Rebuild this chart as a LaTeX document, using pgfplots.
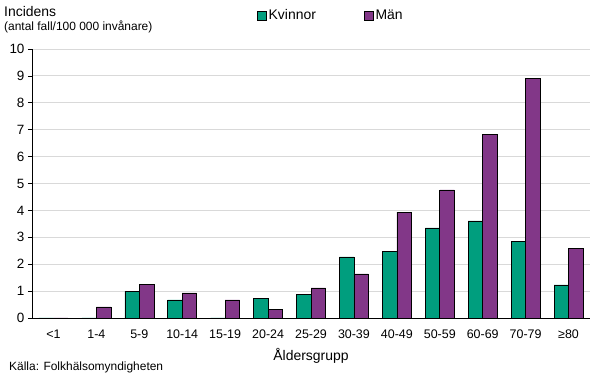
\documentclass[border=0pt]{standalone}
\usepackage{fontspec}
\setmainfont{Liberation Sans}
\usepackage{pgfplots}
\pgfplotsset{compat=1.18}
\definecolor{kv}{HTML}{009E7E}
\definecolor{ma}{HTML}{823788}
\begin{document}
\begin{tikzpicture}
\useasboundingbox (0,0) rectangle (605bp,378bp);
\begin{axis}[
  at={(32bp,60bp)}, anchor=south west,
  width=558bp, height=269bp, scale only axis,
  xmin=-0.5, xmax=12.5, ymin=0, ymax=10,
  ybar=0pt, bar width=14.5bp,
  axis lines=left, axis line style={-, black, line width=0.9pt},
  xtick={0,...,12},
  xticklabels={<1,1-4,5-9,10-14,15-19,20-24,25-29,30-39,40-49,50-59,60-69,70-79,≥80},
  x tick label style={font=\fontsize{12.5}{14}\selectfont, yshift=-4bp},
  x tick style={draw=none},
  ytick={0,...,10},
  y tick label style={font=\fontsize{13.5}{15}\selectfont},
  y tick style={black, line width=0.7pt},
  tick align=outside, major tick length=4bp,
  ymajorgrids, grid style={gray!30, line width=0.9pt},
  xlabel={Åldersgrupp},
  xlabel style={font=\fontsize{14}{16}\selectfont, yshift=-3bp},
  /pgf/number format/assume math mode=true,
  legend columns=2,
  legend style={draw=none, fill=none, at={(0.403,1.125)}, anchor=west,
    font=\fontsize{14}{16}\selectfont, /tikz/every even column/.append style={column sep=46bp},
    inner sep=0pt},
  legend image code/.code={\draw[#1, draw=black, line width=0.6pt] (0bp,-4.5bp) rectangle (9bp,4.5bp);},
  clip=false,
]
\addplot[fill=kv, draw=black, line width=0.6pt] coordinates {
  (0,0) (1,0) (2,1.00) (3,0.67) (4,0) (5,0.74) (6,0.89) (7,2.27) (8,2.49) (9,3.35) (10,3.61) (11,2.86) (12,1.23)};
\addlegendentry{Kvinnor}
\addplot[fill=ma, draw=black, line width=0.6pt] coordinates {
  (0,0) (1,0.41) (2,1.26) (3,0.93) (4,0.67) (5,0.33) (6,1.12) (7,1.64) (8,3.94) (9,4.76) (10,6.84) (11,8.92) (12,2.60)};
\addlegendentry{Män}
\end{axis}
\node[anchor=west, font=\fontsize{14}{16}\selectfont, inner sep=0pt] at (4bp,366bp) {Incidens};
\node[anchor=west, font=\fontsize{12}{14}\selectfont, inner sep=0pt] at (4bp,351bp) {(antal fall/100 000 invånare)};
\node[anchor=west, font=\fontsize{12}{14}\selectfont, inner sep=0pt] at (9bp,11bp) {Källa: Folkhälsomyndigheten};
\end{tikzpicture}
\end{document}
